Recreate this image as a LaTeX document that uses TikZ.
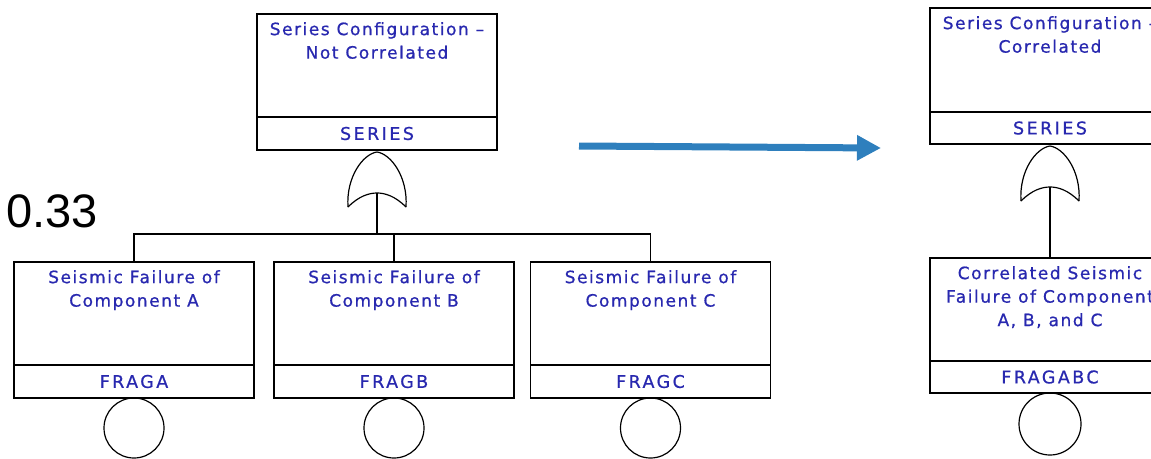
\documentclass[tikz,border=0pt]{standalone}
\usepackage{fontspec}
\setmainfont{DejaVu Sans}
\newfontfamily\treefont[LetterSpace=9, FakeBold=0.8]{DejaVu Sans}
\newfontfamily\idfont[LetterSpace=14, FakeBold=0.8]{DejaVu Sans}
\newfontfamily\valuefont{Liberation Sans}
\usetikzlibrary{arrows.meta}
\definecolor{ftblue}{RGB}{40,40,175}
\definecolor{arrowblue}{RGB}{46,127,189}
\tikzset{
  descbox/.style={draw, line width=1.5pt, minimum width=240pt, minimum height=103pt,
    inner sep=0pt, outer sep=0pt, anchor=north},
  idbox/.style={draw, line width=1.5pt, minimum width=240pt, minimum height=33pt,
    inner sep=0pt, outer sep=0pt, anchor=north, text=ftblue,
    font=\idfont\fontsize{17.5}{23.5}\selectfont},
  desctext/.style={anchor=north, align=center, inner sep=0pt, text=ftblue,
    font=\treefont\fontsize{17}{23.5}\selectfont},
  conn/.style={line width=1.3pt},
  gateline/.style={line width=1.2pt},
  basic/.style={draw, circle, line width=1.2pt, inner sep=0pt, outer sep=0pt, anchor=north},
  pics/orgate/.style={code={
    \draw[gateline] (-29,55) .. controls (-31,25) and (-14,2) .. (0,0)
                              .. controls (14,2) and (31,25) .. (29,55);
    \draw[gateline] (-29,55) .. controls (-18,44) and (-8,41) .. (0,41)
                              .. controls (8,41) and (18,44) .. (29,55);
    \coordinate (-in) at (0,41);
  }}
}
\begin{document}
\begin{tikzpicture}[x=1pt, y=-1pt]
  \useasboundingbox (0,0) rectangle (1151,458);
  \clip (0,0) rectangle (1151,458);

  % ---- left tree: series configuration, not correlated ----
  \node[descbox] (S1) at (377,14) {};
  \node[desctext] at ([yshift=-8pt]S1.north) {Series Configuration –\\Not Correlated};
  \node[idbox] (S1id) at (S1.south) {SERIES};
  \pic (g1) at ([yshift=-2pt]S1id.south) {orgate};

  \coordinate (bus) at (0,234);

  \node[descbox] (A) at (134,262) {};
  \node[desctext] at ([yshift=-8pt]A.north) {Seismic Failure of\\Component A};
  \node[idbox] (Aid) at (A.south) {FRAGA};
  \node[basic, minimum size=60pt] (Ac) at (Aid.south) {};

  \node[descbox] (B) at (394,262) {};
  \node[desctext] at ([yshift=-8pt]B.north) {Seismic Failure of\\Component B};
  \node[idbox] (Bid) at (B.south) {FRAGB};
  \node[basic, minimum size=60pt] (Bc) at (Bid.south) {};

  \node[descbox] (C) at (650.5,262) {};
  \node[desctext] at ([yshift=-8pt]C.north) {Seismic Failure of\\Component C};
  \node[idbox] (Cid) at (C.south) {FRAGC};
  \node[basic, minimum size=60pt] (Cc) at (Cid.south) {};

  \draw[conn] (g1-in) -- (g1-in |- bus);
  \draw[conn] (A.north) |- (bus -| B.north) -| (C.north);
  \draw[conn] (B.north) -- (B.north |- bus);

  \node[anchor=base west, inner sep=0pt, font=\valuefont\fontsize{47}{47}\selectfont]
    (val) at (6,227) {0.33};

  % ---- transformation arrow ----
  \coordinate (arrS) at (579,146);
  \coordinate (arrE) at (881,148);
  \draw[arrowblue, line width=7pt, -{Triangle[length=24pt, width=24pt]}] (arrS) -- (arrE);

  % ---- right tree: series configuration, correlated ----
  \node[descbox, minimum height=104pt] (S2) at (1050,8) {};
  \node[desctext] at ([yshift=-8pt]S2.north) {Series Configuration –\\Correlated};
  \node[idbox, minimum height=32pt] (S2id) at (S2.south) {SERIES};
  \pic (g2) at ([yshift=-2pt]S2id.south) {orgate};

  \node[descbox] (R) at (1050,258) {};
  \node[desctext] at ([yshift=-8pt]R.north) {Correlated Seismic\\Failure of Component\\A, B, and C};
  \node[idbox, minimum height=32pt] (Rid) at (R.south) {FRAGABC};
  \node[basic, minimum size=62pt] (Rc) at (Rid.south) {};

  \draw[conn] (g2-in) -- (R.north);
\end{tikzpicture}
\end{document}
